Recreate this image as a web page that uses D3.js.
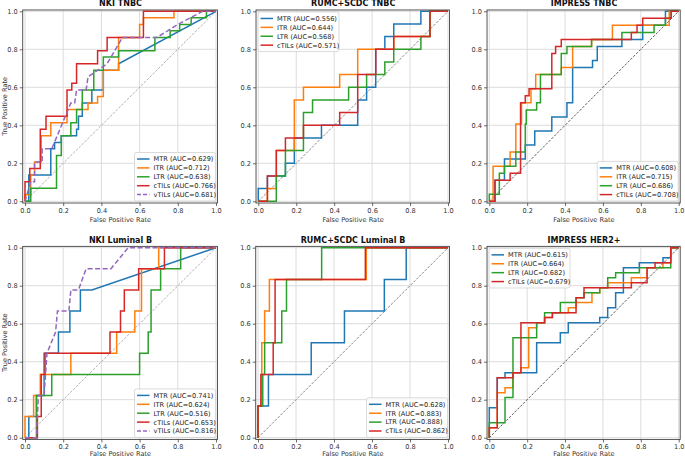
<!DOCTYPE html>
<html lang="en">
<head>
  <meta charset="UTF-8">
  <title>ROC curves</title>
  <style>
    body { margin: 0; padding: 0; background: #fff; }
    svg { font-family: 'DejaVu Sans', sans-serif; }
  </style>
</head>
<body>
<script src="https://cdn.jsdelivr.net/npm/d3@7"></script>
<script>
  // ---- data: [FPR, TPR] pairs ----
  const nkiTnbcMTR = [[0,0],[0.02,0],[0.02,0.138],[0.135,0.138],[0.135,0.276],[0.155,0.276],[0.155,0.31],[0.19,0.31],[0.19,0.345],[0.27,0.345],[0.27,0.379],[0.28,0.379],[0.28,0.448],[0.3,0.448],[0.3,0.517],[0.35,0.517],[0.35,0.586],[0.41,0.586],[0.41,0.69],[0.49,0.69],[0.49,0.724],[1,1]];
  const nkiTnbcITR = [[0,0],[0,0.034],[0.03,0.034],[0.03,0.138],[0.05,0.138],[0.05,0.207],[0.085,0.207],[0.085,0.345],[0.135,0.345],[0.135,0.414],[0.22,0.414],[0.22,0.483],[0.33,0.483],[0.33,0.517],[0.38,0.517],[0.38,0.552],[0.41,0.552],[0.41,0.69],[0.49,0.69],[0.49,0.862],[0.6,0.862],[0.6,0.931],[0.62,0.931],[0.62,0.966],[0.78,0.966],[0.78,1],[1,1]];
  const nkiTnbcLTR = [[0,0],[0.03,0],[0.03,0.069],[0.165,0.069],[0.165,0.241],[0.19,0.241],[0.19,0.345],[0.24,0.345],[0.24,0.414],[0.27,0.414],[0.27,0.483],[0.3,0.483],[0.3,0.586],[0.36,0.586],[0.36,0.69],[0.41,0.69],[0.41,0.759],[0.49,0.759],[0.49,0.793],[0.68,0.793],[0.68,0.862],[0.76,0.862],[0.76,0.897],[0.81,0.897],[0.81,0.931],[0.87,0.931],[0.87,0.966],[0.95,0.966],[0.95,1],[1,1]];
  const nkiTnbcCTILs = [[0,0],[0,0.103],[0.025,0.103],[0.025,0.172],[0.08,0.172],[0.08,0.379],[0.11,0.379],[0.11,0.448],[0.22,0.448],[0.22,0.586],[0.245,0.586],[0.245,0.621],[0.27,0.621],[0.27,0.724],[0.38,0.724],[0.38,0.793],[0.43,0.793],[0.43,0.862],[0.62,0.862],[0.62,1],[1,1]];
  const nkiTnbcVTILs = [[0,0],[0.03,0.103],[0.05,0.103],[0.05,0.207],[0.09,0.207],[0.09,0.276],[0.14,0.276],[0.24,0.517],[0.26,0.517],[0.27,0.586],[0.32,0.586],[0.33,0.655],[0.43,0.724],[0.51,0.862],[0.69,0.862],[0.8,0.931],[0.93,1],[1,1]];

  const rumcTnbcMTR = [[0,0],[0,0.067],[0.048,0.067],[0.048,0.133],[0.143,0.133],[0.143,0.2],[0.19,0.2],[0.19,0.333],[0.333,0.333],[0.333,0.4],[0.524,0.4],[0.524,0.533],[0.571,0.533],[0.571,0.6],[0.619,0.6],[0.619,0.8],[0.667,0.8],[0.667,0.867],[0.714,0.867],[0.714,0.933],[0.857,0.933],[0.857,1],[1,1]];
  const rumcTnbcITR = [[0,0],[0.048,0],[0.048,0.067],[0.095,0.067],[0.095,0.267],[0.19,0.267],[0.19,0.533],[0.238,0.533],[0.238,0.6],[0.429,0.6],[0.429,0.667],[0.524,0.667],[0.524,0.8],[0.714,0.8],[0.714,0.867],[0.905,0.867],[0.905,1],[1,1]];
  const rumcTnbcLTR = [[0,0],[0.095,0],[0.095,0.133],[0.143,0.133],[0.143,0.267],[0.238,0.267],[0.238,0.467],[0.286,0.467],[0.286,0.533],[0.476,0.533],[0.476,0.6],[0.571,0.6],[0.571,0.667],[0.667,0.667],[0.667,0.733],[0.714,0.733],[0.714,0.8],[0.857,0.8],[0.857,0.867],[0.905,0.867],[0.905,1],[1,1]];
  const rumcTnbcCTILs = [[0,0],[0.048,0],[0.048,0.133],[0.095,0.133],[0.095,0.267],[0.143,0.267],[0.143,0.333],[0.238,0.333],[0.238,0.4],[0.429,0.4],[0.429,0.467],[0.524,0.467],[0.524,0.667],[0.619,0.667],[0.619,0.8],[0.714,0.8],[0.714,0.867],[0.905,0.867],[0.905,1],[1,1]];

  const impressTnbcMTR = [[0,0],[0.03,0],[0.03,0.111],[0.08,0.111],[0.08,0.222],[0.19,0.222],[0.19,0.296],[0.24,0.296],[0.24,0.37],[0.33,0.37],[0.33,0.444],[0.41,0.444],[0.41,0.519],[0.44,0.519],[0.44,0.704],[0.545,0.704],[0.545,0.741],[0.57,0.741],[0.57,0.815],[0.7,0.815],[0.7,0.852],[0.81,0.852],[0.81,0.926],[0.93,0.926],[0.93,1],[1,1]];
  const impressTnbcITR = [[0,0],[0.02,0],[0.02,0.185],[0.11,0.185],[0.11,0.259],[0.14,0.259],[0.14,0.407],[0.17,0.407],[0.17,0.519],[0.22,0.519],[0.22,0.593],[0.245,0.593],[0.245,0.667],[0.38,0.667],[0.38,0.704],[0.44,0.704],[0.44,0.815],[0.54,0.815],[0.54,0.852],[0.65,0.852],[0.65,0.926],[0.95,0.926],[0.95,1],[1,1]];
  const impressTnbcLTR = [[0,0],[0,0.037],[0.053,0.037],[0.053,0.148],[0.08,0.148],[0.08,0.185],[0.14,0.185],[0.14,0.259],[0.19,0.259],[0.19,0.407],[0.195,0.407],[0.195,0.481],[0.25,0.481],[0.25,0.519],[0.27,0.519],[0.27,0.667],[0.38,0.667],[0.38,0.778],[0.41,0.778],[0.41,0.815],[0.54,0.815],[0.54,0.852],[0.7,0.852],[0.7,0.889],[0.87,0.889],[0.87,0.926],[0.93,0.926],[0.93,0.963],[0.96,0.963],[0.96,1],[1,1]];
  const impressTnbcCTILs = [[0,0],[0.03,0],[0.03,0.111],[0.11,0.111],[0.11,0.148],[0.165,0.148],[0.165,0.519],[0.19,0.519],[0.19,0.556],[0.21,0.556],[0.21,0.593],[0.33,0.593],[0.33,0.778],[0.35,0.778],[0.35,0.815],[0.38,0.815],[0.38,0.852],[0.75,0.852],[0.75,0.889],[0.78,0.889],[0.78,0.926],[0.81,0.926],[0.81,0.963],[0.96,0.963],[0.96,1],[1,1]];

  const nkiLumMTR = [[0,0],[0.02,0],[0.02,0.111],[0.06,0.111],[0.06,0.222],[0.1,0.222],[0.1,0.444],[0.175,0.444],[0.175,0.556],[0.235,0.556],[0.235,0.667],[0.29,0.667],[0.29,0.778],[0.35,0.778],[1,1]];
  const nkiLumITR = [[0,0],[0,0.111],[0.045,0.111],[0.045,0.222],[0.08,0.222],[0.08,0.333],[0.24,0.333],[0.24,0.444],[0.48,0.444],[0.48,0.556],[0.575,0.556],[0.575,0.667],[0.61,0.667],[0.61,0.889],[0.7,0.889],[0.7,1],[1,1]];
  const nkiLumLTR = [[0,0],[0.06,0],[0.06,0.222],[0.14,0.222],[0.14,0.333],[0.6,0.333],[0.6,0.444],[0.645,0.444],[0.645,0.556],[0.66,0.556],[0.66,0.778],[0.71,0.778],[0.71,0.889],[0.815,0.889],[0.815,1],[1,1]];
  const nkiLumCTILs = [[0,0],[0.065,0],[0.065,0.111],[0.085,0.111],[0.085,0.333],[0.105,0.333],[0.105,0.444],[0.445,0.444],[0.445,0.556],[0.5,0.556],[0.5,0.667],[0.52,0.667],[0.52,0.778],[0.595,0.778],[0.595,0.889],[0.73,0.889],[0.73,1],[1,1]];
  const nkiLumVTILs = [[0,0],[0.06,0],[0.07,0.222],[0.1,0.222],[0.115,0.444],[0.16,0.556],[0.17,0.667],[0.23,0.667],[0.24,0.778],[0.28,0.778],[0.32,0.889],[0.45,0.889],[0.54,1],[1,1]];

  const rumcLumMTR = [[0,0],[0,0.167],[0.055,0.167],[0.055,0.333],[0.28,0.333],[0.28,0.5],[0.455,0.5],[0.455,0.667],[0.665,0.667],[0.665,0.833],[0.78,0.833],[0.78,1],[1,1]];
  const rumcLumITR = [[0,0],[0,0.167],[0.02,0.167],[0.02,0.5],[0.035,0.5],[0.035,0.667],[0.06,0.667],[0.06,0.833],[0.57,0.833],[0.57,1],[1,1]];
  const rumcLumLTR = [[0,0],[0,0.167],[0.025,0.167],[0.025,0.333],[0.035,0.333],[0.035,0.5],[0.125,0.5],[0.125,0.667],[0.15,0.667],[0.15,0.833],[0.335,0.833],[0.335,1],[1,1]];
  const rumcLumCTILs = [[0,0],[0,0.167],[0.015,0.167],[0.015,0.333],[0.08,0.333],[0.08,0.5],[0.09,0.5],[0.09,0.833],[0.565,0.833],[0.565,1],[1,1]];

  const impressHerMTR = [[0,0],[0,0.158],[0.042,0.158],[0.042,0.316],[0.083,0.316],[0.083,0.342],[0.25,0.342],[0.25,0.5],[0.375,0.5],[0.375,0.553],[0.417,0.553],[0.417,0.605],[0.583,0.605],[0.583,0.632],[0.625,0.632],[0.625,0.684],[0.667,0.684],[0.667,0.763],[0.708,0.763],[0.708,0.895],[0.792,0.895],[0.792,0.921],[0.917,0.921],[0.917,0.947],[0.958,0.947],[0.958,1],[1,1]];
  const impressHerITR = [[0,0],[0,0.053],[0.042,0.053],[0.042,0.237],[0.083,0.237],[0.083,0.263],[0.125,0.263],[0.125,0.342],[0.167,0.342],[0.167,0.368],[0.208,0.368],[0.208,0.579],[0.25,0.579],[0.25,0.605],[0.292,0.605],[0.292,0.632],[0.333,0.632],[0.333,0.658],[0.417,0.658],[0.417,0.684],[0.458,0.684],[0.458,0.711],[0.542,0.711],[0.542,0.763],[0.583,0.763],[0.583,0.789],[0.625,0.789],[0.625,0.816],[0.75,0.816],[0.75,0.842],[0.833,0.842],[0.833,0.895],[0.917,0.895],[0.917,0.921],[0.958,0.921],[0.958,1],[1,1]];
  const impressHerLTR = [[0,0],[0,0.079],[0.083,0.079],[0.083,0.211],[0.125,0.211],[0.125,0.526],[0.25,0.526],[0.25,0.605],[0.292,0.605],[0.292,0.658],[0.375,0.658],[0.375,0.711],[0.458,0.711],[0.458,0.737],[0.5,0.737],[0.5,0.763],[0.583,0.763],[0.583,0.789],[0.625,0.789],[0.625,0.842],[0.667,0.842],[0.667,0.868],[0.792,0.868],[0.792,0.895],[0.958,0.895],[0.958,1],[1,1]];
  const impressHerCTILs = [[0,0],[0,0.053],[0.042,0.053],[0.042,0.316],[0.125,0.316],[0.125,0.342],[0.167,0.342],[0.167,0.605],[0.292,0.605],[0.292,0.632],[0.333,0.632],[0.333,0.658],[0.458,0.658],[0.458,0.737],[0.5,0.737],[0.5,0.789],[0.75,0.789],[0.75,0.816],[0.833,0.816],[0.833,0.895],[0.875,0.895],[0.875,0.921],[0.958,0.921],[0.958,1],[1,1]];

  const ticks = [0, 0.2, 0.4, 0.6, 0.8, 1.0];
  const colors = { MTR: '#1f77b4', ITR: '#ff7f0e', LTR: '#2ca02c', cTILs: '#d62728', vTILs: '#9467bd' };

  // panel setup: title, curves (name, data, auc), legend position, diagonal colour
  const panels = [
    { title: 'NKI TNBC', x0: 25, x1: 216, top: 11.3, bot: 201.3, ylab: true, legend: 'br', diag: '#999',
      curves: [['MTR', nkiTnbcMTR, '0.629'], ['ITR', nkiTnbcITR, '0.712'], ['LTR', nkiTnbcLTR, '0.638'], ['cTILs', nkiTnbcCTILs, '0.766'], ['vTILs', nkiTnbcVTILs, '0.681']] },
    { title: 'RUMC+SCDC TNBC', x0: 258.3, x1: 448, top: 11.3, bot: 201.3, legend: 'tl', diag: '#666',
      curves: [['MTR', rumcTnbcMTR, '0.556'], ['ITR', rumcTnbcITR, '0.644'], ['LTR', rumcTnbcLTR, '0.568'], ['cTILs', rumcTnbcCTILs, '0.571']] },
    { title: 'IMPRESS TNBC', x0: 489.3, x1: 678.7, top: 11.3, bot: 201.3, legend: 'br', diag: '#333',
      curves: [['MTR', impressTnbcMTR, '0.608'], ['ITR', impressTnbcITR, '0.715'], ['LTR', impressTnbcLTR, '0.686'], ['cTILs', impressTnbcCTILs, '0.708']] },
    { title: 'NKI Luminal B', x0: 25, x1: 216, top: 247.7, bot: 437.7, ylab: true, legend: 'br', diag: '#999',
      curves: [['MTR', nkiLumMTR, '0.741'], ['ITR', nkiLumITR, '0.624'], ['LTR', nkiLumLTR, '0.516'], ['cTILs', nkiLumCTILs, '0.653'], ['vTILs', nkiLumVTILs, '0.816']] },
    { title: 'RUMC+SCDC Luminal B', x0: 258, x1: 448, top: 247.7, bot: 437.7, legend: 'br', diag: '#666',
      curves: [['MTR', rumcLumMTR, '0.628'], ['ITR', rumcLumITR, '0.883'], ['LTR', rumcLumLTR, '0.888'], ['cTILs', rumcLumCTILs, '0.862']] },
    { title: 'IMPRESS HER2+', x0: 489.3, x1: 678.7, top: 247.7, bot: 437.7, legend: 'tl', diag: '#333',
      curves: [['MTR', impressHerMTR, '0.615'], ['ITR', impressHerITR, '0.664'], ['LTR', impressHerLTR, '0.682'], ['cTILs', impressHerCTILs, '0.679']] }
  ];

  const svg = d3.select('body').append('svg')
    .attr('width', 685)
    .attr('height', 458);

  panels.forEach(p => {
    const x = d3.scaleLinear().domain([0, 1]).range([p.x0, p.x1]);
    const y = d3.scaleLinear().domain([0, 1]).range([p.bot, p.top]);
    const g = svg.append('g');

    const fx0 = x(-0.012), fx1 = x(1.008), fy0 = y(-0.009), fy1 = y(1.007);

    // grid
    g.selectAll('line.gx').data(ticks).enter().append('line')
      .attr('x1', d => x(d)).attr('x2', d => x(d))
      .attr('y1', fy1).attr('y2', fy0)
      .attr('stroke', '#dcdcdc').attr('stroke-width', 1);
    g.selectAll('line.gy').data(ticks).enter().append('line')
      .attr('y1', d => y(d)).attr('y2', d => y(d))
      .attr('x1', fx0).attr('x2', fx1)
      .attr('stroke', '#dcdcdc').attr('stroke-width', 1);

    // chance diagonal
    g.append('line')
      .attr('x1', x(0)).attr('y1', y(0)).attr('x2', x(1)).attr('y2', y(1))
      .attr('stroke', p.diag).attr('stroke-width', 0.8)
      .attr('stroke-dasharray', '2.5,1.5');

    // curves
    const line = d3.line().x(d => x(d[0])).y(d => y(d[1]));
    p.curves.forEach(c => {
      g.append('path')
        .attr('d', line(c[1]))
        .attr('fill', 'none')
        .attr('stroke', colors[c[0]])
        .attr('stroke-width', 1.5)
        .attr('stroke-dasharray', c[0] === 'vTILs' ? '5,2.5' : null);
    });

    // frame
    g.append('rect')
      .attr('x', fx0).attr('y', fy1)
      .attr('width', fx1 - fx0).attr('height', fy0 - fy1)
      .attr('fill', 'none').attr('stroke', '#444').attr('stroke-width', 0.9);

    // axes
    const xAxis = d3.axisBottom(x).tickValues(ticks).tickFormat(d3.format('.1f')).tickSize(3).tickPadding(2);
    const yAxis = d3.axisLeft(y).tickValues(ticks).tickFormat(d3.format('.1f')).tickSize(3).tickPadding(2);
    const xa = g.append('g').attr('transform', `translate(0,${fy0})`).call(xAxis);
    const ya = g.append('g').attr('transform', `translate(${fx0},0)`).call(yAxis);
    [xa, ya].forEach(a => {
      a.select('.domain').remove();
      a.selectAll('line').attr('stroke', '#444').attr('stroke-width', 0.8);
      a.selectAll('text').attr('font-size', 6.6).attr('fill', '#333').attr('font-family', 'DejaVu Sans');
    });

    // title and labels
    g.append('text')
      .attr('x', (p.x0 + p.x1) / 2).attr('y', fy1 - 3.5)
      .attr('text-anchor', 'middle').attr('font-size', 8).attr('font-weight', 'bold')
      .attr('fill', '#111').text(p.title);
    g.append('text')
      .attr('x', (p.x0 + p.x1) / 2).attr('y', Math.min(fy0 + 18.5, 456.3))
      .attr('text-anchor', 'middle').attr('font-size', 6.6).attr('fill', '#333')
      .text('False Positive Rate');
    if (p.ylab) {
      g.append('text')
        .attr('transform', `translate(6.5,${(p.top + p.bot) / 2}) rotate(-90)`)
        .attr('text-anchor', 'middle').attr('font-size', 6.6).attr('fill', '#333')
        .text('True Positive Rate');
    }

    // legend
    const n = p.curves.length;
    const lw = 81, lh = n * 8.9 + 4;
    const lx = p.legend === 'br' ? fx1 - 2 - lw : fx0 + 2;
    const ly = p.legend === 'br' ? fy0 - 2 - lh : fy1 + 2;
    const lg = g.append('g').attr('transform', `translate(${lx},${ly})`);
    lg.append('rect').attr('width', lw).attr('height', lh).attr('rx', 2)
      .attr('fill', 'rgba(255,255,255,0.85)').attr('stroke', '#d0d0d0').attr('stroke-width', 0.8);
    p.curves.forEach((c, i) => {
      const cy = 6.5 + i * 8.9;
      lg.append('line').attr('x1', 2.5).attr('x2', 15).attr('y1', cy).attr('y2', cy)
        .attr('stroke', colors[c[0]]).attr('stroke-width', 1.5)
        .attr('stroke-dasharray', c[0] === 'vTILs' ? '4,2' : null);
      lg.append('text').attr('x', 19).attr('y', cy + 2.4)
        .attr('font-size', 6.6).attr('fill', '#222')
        .text(`${c[0]} (AUC=${c[2]})`);
    });
  });
</script>
</body>
</html>
